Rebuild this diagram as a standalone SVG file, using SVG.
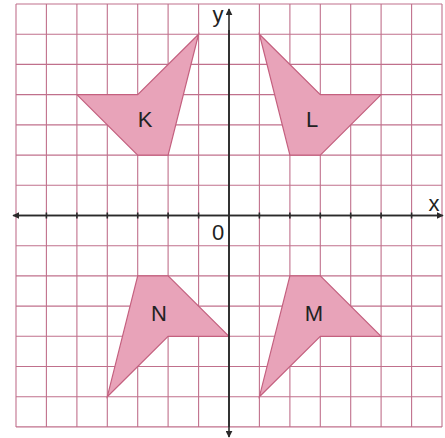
<svg xmlns="http://www.w3.org/2000/svg" width="445" height="438" viewBox="0 0 445 438">
<style>
.grid line{stroke:#c0708c;stroke-width:1.1}
.shape{fill:#e8a3b9;stroke:#c4607f;stroke-width:1.2;stroke-linejoin:miter}
.lbl{font-family:"Liberation Sans",Arial,sans-serif;font-size:22px;fill:#222;text-anchor:middle}
.ax{stroke:#2a2a2a;stroke-width:1.6}
.tick{stroke:#2a2a2a;stroke-width:1.6}
</style>
<defs>
<marker id="arr" viewBox="0 0 10 10" refX="9" refY="5" markerWidth="7" markerHeight="7" markerUnits="userSpaceOnUse" orient="auto">
<path d="M0,0 L10,5 L0,10 z" fill="#2a2a2a"/>
</marker>
</defs>
<rect width="445" height="438" fill="#ffffff"/>
<g class="grid">
<line x1="16" y1="4" x2="16" y2="427"/>
<line x1="46.4" y1="4" x2="46.4" y2="427"/>
<line x1="76.9" y1="4" x2="76.9" y2="427"/>
<line x1="107.3" y1="4" x2="107.3" y2="427"/>
<line x1="137.7" y1="4" x2="137.7" y2="427"/>
<line x1="168.1" y1="4" x2="168.1" y2="427"/>
<line x1="198.6" y1="4" x2="198.6" y2="427"/>
<line x1="259.4" y1="4" x2="259.4" y2="427"/>
<line x1="289.9" y1="4" x2="289.9" y2="427"/>
<line x1="320.3" y1="4" x2="320.3" y2="427"/>
<line x1="350.7" y1="4" x2="350.7" y2="427"/>
<line x1="381.1" y1="4" x2="381.1" y2="427"/>
<line x1="411.6" y1="4" x2="411.6" y2="427"/>
<line x1="442" y1="4" x2="442" y2="427"/>
<line x1="16" y1="4" x2="442" y2="4"/>
<line x1="16" y1="34.2" x2="442" y2="34.2"/>
<line x1="16" y1="64.4" x2="442" y2="64.4"/>
<line x1="16" y1="94.6" x2="442" y2="94.6"/>
<line x1="16" y1="124.9" x2="442" y2="124.9"/>
<line x1="16" y1="155.1" x2="442" y2="155.1"/>
<line x1="16" y1="185.3" x2="442" y2="185.3"/>
<line x1="16" y1="245.7" x2="442" y2="245.7"/>
<line x1="16" y1="275.9" x2="442" y2="275.9"/>
<line x1="16" y1="306.1" x2="442" y2="306.1"/>
<line x1="16" y1="336.3" x2="442" y2="336.3"/>
<line x1="16" y1="366.5" x2="442" y2="366.5"/>
<line x1="16" y1="396.7" x2="442" y2="396.7"/>
<line x1="16" y1="426.9" x2="442" y2="426.9"/>
</g>
<g id="K">
<polygon class="shape" points="198.6,34.2 137.7,94.6 76.9,94.6 137.7,155.1 168.1,155.1"/>
<text class="lbl" x="145" y="127">K</text>
</g>
<g id="L">
<polygon class="shape" points="259.4,34.2 320.3,94.6 381.1,94.6 320.3,155.1 289.9,155.1"/>
<text class="lbl" x="312" y="127">L</text>
</g>
<g id="M">
<polygon class="shape" points="289.9,275.9 320.3,275.9 381.1,336.3 320.3,336.3 259.4,396.7"/>
<text class="lbl" x="314" y="321">M</text>
</g>
<g id="N">
<polygon class="shape" points="137.7,275.9 168.1,275.9 229,336.3 168.1,336.3 107.3,396.7"/>
<text class="lbl" x="159" y="321">N</text>
</g>
<g id="axes">
<line class="ax" x1="16" y1="215.5" x2="443" y2="215.5" marker-end="url(#arr)"/>
<line class="ax" x1="440" y1="215.5" x2="13" y2="215.5" marker-end="url(#arr)"/>
<line class="ax" x1="229" y1="427" x2="229" y2="9" marker-end="url(#arr)"/>
<line class="ax" x1="229" y1="30" x2="229" y2="437" marker-end="url(#arr)"/>
<g class="tick">
<line x1="46.4" y1="212.5" x2="46.4" y2="218.5"/>
<line x1="76.9" y1="212.5" x2="76.9" y2="218.5"/>
<line x1="107.3" y1="212.5" x2="107.3" y2="218.5"/>
<line x1="137.7" y1="212.5" x2="137.7" y2="218.5"/>
<line x1="168.1" y1="212.5" x2="168.1" y2="218.5"/>
<line x1="198.6" y1="212.5" x2="198.6" y2="218.5"/>
<line x1="259.4" y1="212.5" x2="259.4" y2="218.5"/>
<line x1="289.9" y1="212.5" x2="289.9" y2="218.5"/>
<line x1="320.3" y1="212.5" x2="320.3" y2="218.5"/>
<line x1="350.7" y1="212.5" x2="350.7" y2="218.5"/>
<line x1="381.1" y1="212.5" x2="381.1" y2="218.5"/>
<line x1="411.6" y1="212.5" x2="411.6" y2="218.5"/>
</g>
<text class="lbl" x="218" y="240">0</text>
<text class="lbl" x="218" y="22">y</text>
<text class="lbl" x="434" y="211">x</text>
</g>
</svg>
